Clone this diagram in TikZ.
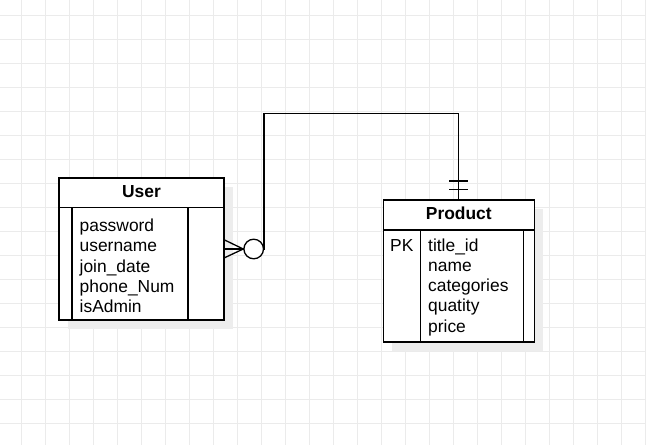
\documentclass[tikz,border=0pt]{standalone}
\usepackage{fontspec}
\setmainfont{Liberation Sans}
\usetikzlibrary{calc,shadows}

\begin{document}
\begin{tikzpicture}[x=1pt, y=-1pt,
	gridline/.style={color=black!8, line width=0.8pt},
	tabline/.style={line width=1.3pt},
	tablebox/.style={draw, line width=1.3pt, fill=white, rectangle, inner sep=0pt,
		drop shadow={shadow xshift=9pt, shadow yshift=-9pt, fill=black!7, opacity=1}},
	head/.style={font=\fontsize{17.4}{20.3}\selectfont\bfseries, anchor=base, inner sep=0pt},
	attr/.style={font=\fontsize{17.4}{20.3}\selectfont, anchor=base west, inner sep=0pt}]
	\fill[white] (0,0) rectangle (646,445);
	\useasboundingbox (0,0) rectangle (646,445);
	\foreach \gx in {21,45,...,645} \draw[gridline] (\gx,0) -- (\gx,445);
	\foreach \gy in {15,39,...,440} \draw[gridline] (0,\gy) -- (646,\gy);

	\node[tablebox, minimum width=165pt, minimum height=142pt] (user) at (141.5,249) {};
	\draw[tabline] ($(user.north west)+(0,30.3)$) -- ($(user.north east)+(0,30.3)$);
	\draw[tabline] ($(user.north west)+(13.7,30.3)$) -- ($(user.south west)+(13.7,0)$);
	\draw[tabline] ($(user.north east)+(-36.7,30.3)$) -- ($(user.south east)+(-36.7,0)$);
	\node[head] (usertitle) at (141.5,197.7) {User};
	\foreach \attr [count=\i] in {password,username,join\_date,phone\_Num,isAdmin}
		\node[attr] (userattr\i) at (79.5,211.2+20.3*\i) {\attr};

	\node[tablebox, minimum width=151pt, minimum height=142pt] (product) at (458.8,271) {};
	\draw[tabline] ($(product.north west)+(0,30.7)$) -- ($(product.north east)+(0,30.7)$);
	\draw[tabline] ($(product.north west)+(38,30.7)$) -- ($(product.south west)+(38,0)$);
	\draw[tabline] ($(product.north east)+(-11.6,30.7)$) -- ($(product.south east)+(-11.6,0)$);
	\node[head] (producttitle) at (458.8,219) {Product};
	\node[attr] (pk) at (390,251) {PK};
	\foreach \attr [count=\i] in {title\_id,name,categories,quatity,price}
		\node[attr] (productattr\i) at (428,230.7+20.3*\i) {\attr};

	\coordinate (bend) at (264,113.5);
	\draw[tabline] (user.east) -| (bend) -| (product.north);
	\node[draw, circle, line width=1.3pt, fill=white, minimum size=19.6pt, inner sep=0pt] (zero) at (253.7,249) {};
	\draw[tabline] (user.east) -- (zero.west);
	\draw[tabline] ($(user.east)+(0,-9)$) -- (zero.west);
	\draw[tabline] ($(user.east)+(0,8.7)$) -- (zero.west);
	\draw[tabline] ($(product.north)+(-9.5,-18.3)$) -- ++(19,0);
	\draw[tabline] ($(product.north)+(-9.5,-10)$) -- ++(19,0);
\end{tikzpicture}
\end{document}
